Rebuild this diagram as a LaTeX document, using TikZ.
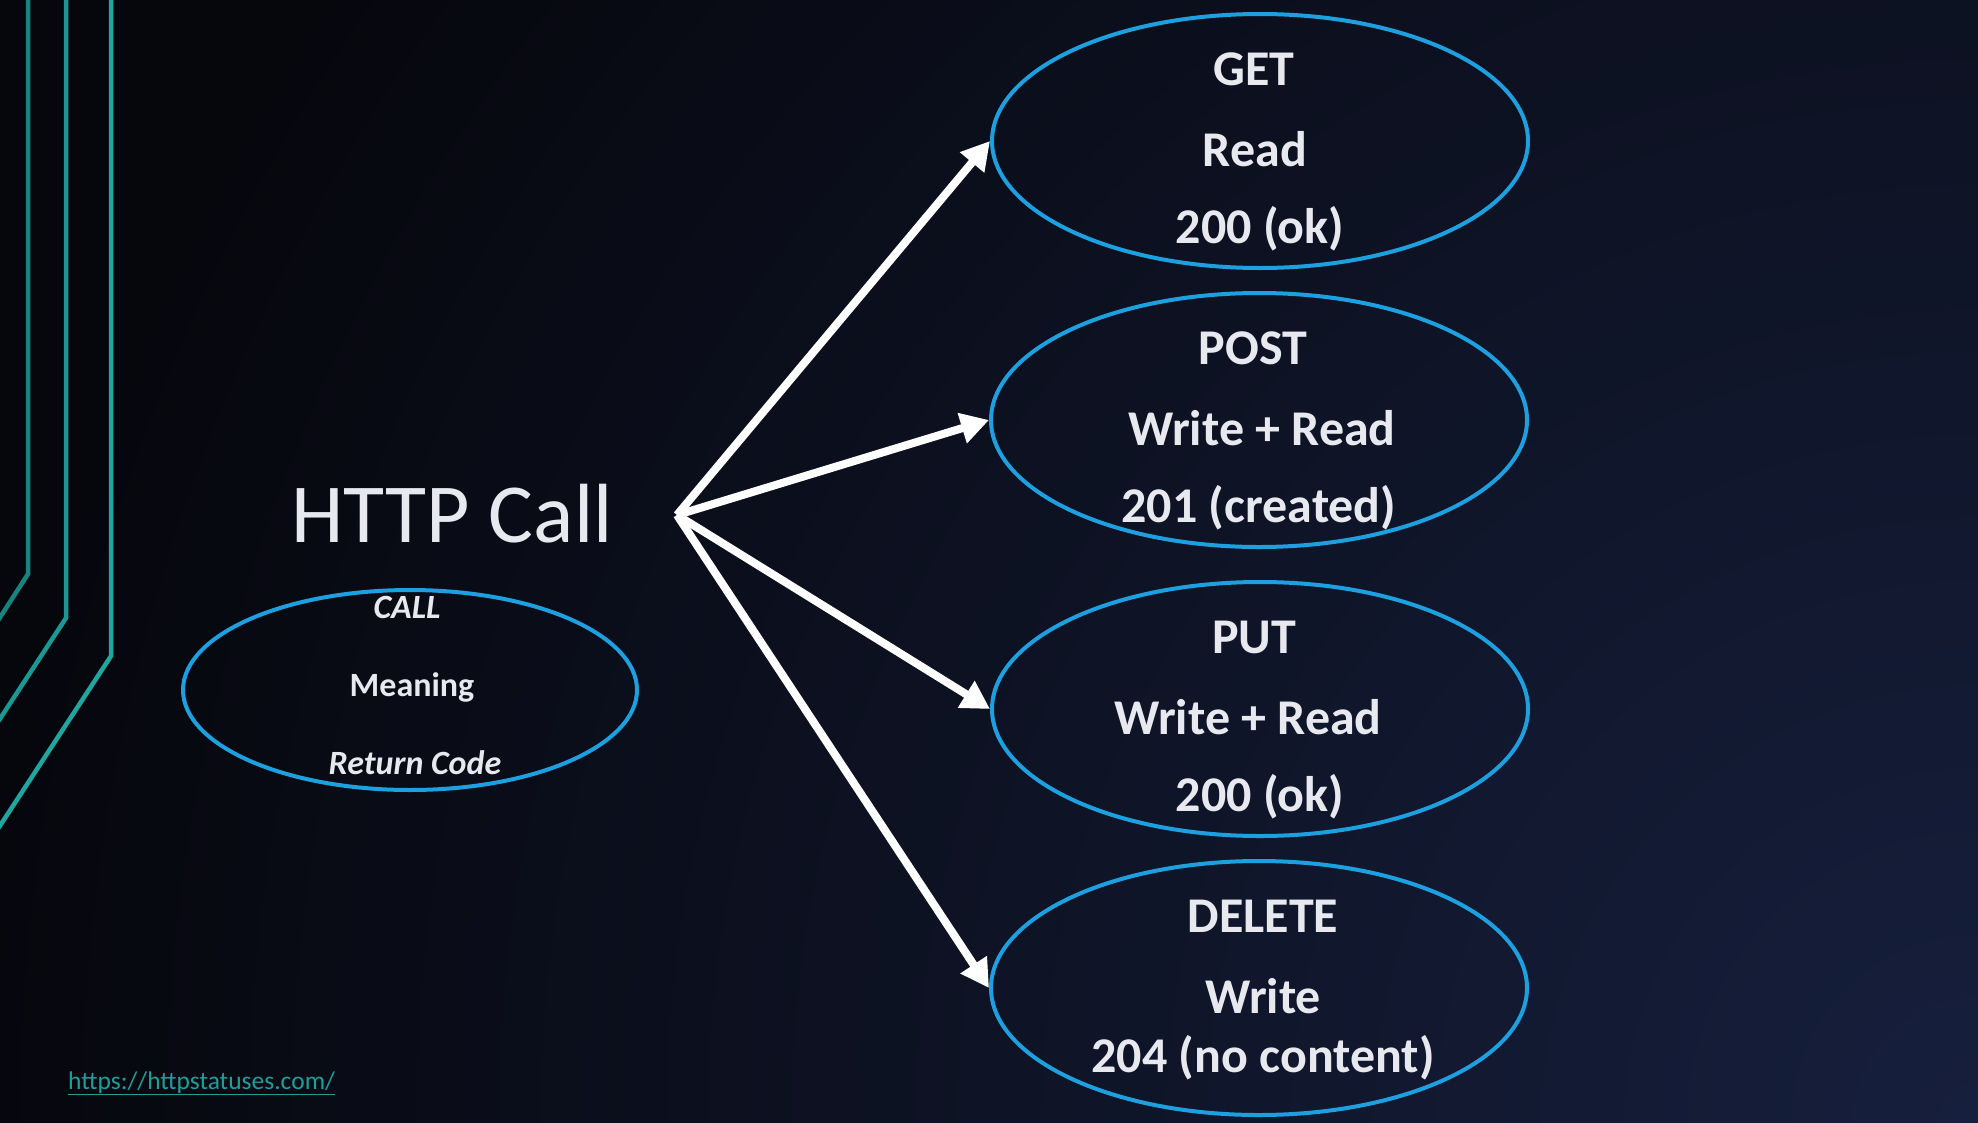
\documentclass[tikz,border=0pt]{standalone}
\usepackage{fontspec}
\setmainfont{Carlito}
\usetikzlibrary{arrows.meta,shapes.geometric}
\definecolor{bgdark}{HTML}{06070D}
\definecolor{bglight}{HTML}{161F3D}
\definecolor{ellblue}{HTML}{1CA0E0}
\definecolor{tealA}{HTML}{168580}
\definecolor{tealB}{HTML}{1A9893}
\definecolor{tealC}{HTML}{1FA79F}
\definecolor{txt}{HTML}{E8E8EF}
\definecolor{linkc}{HTML}{1E9E9A}
\begin{document}
\begin{tikzpicture}[x=1pt,y=-1pt,
  oval/.style={ellipse,draw=ellblue,line width=4pt,minimum width=536pt,minimum height=254pt,inner sep=0pt},
  smalloval/.style={ellipse,draw=ellblue,line width=4pt,minimum width=454pt,minimum height=200pt,inner sep=0pt},
  bigtxt/.style={text=txt,font=\fontsize{50}{60}\selectfont\bfseries,anchor=base,inner sep=0pt},
  smalltxt/.style={text=txt,font=\fontsize{34}{40}\selectfont\bfseries,anchor=base,inner sep=0pt},
  smallit/.style={smalltxt,font=\fontsize{34}{40}\selectfont\bfseries\itshape},
  arr/.style={draw=white,line width=8pt,-{Triangle[length=28pt,width=30pt]}},
  deco/.style={line width=4.5pt}
]
\useasboundingbox (0,0) rectangle (1978,1122);
\fill[bgdark] (0,0) rectangle (1978,1122);
\begin{scope}
\clip (0,0) rectangle (1978,1122);
\shade[inner color=bglight, outer color=bgdark] (1978,1122) circle (2000);
\draw[deco,tealA] (28,-5) -- (28,574) -- (-10,633);
\draw[deco,tealB] (66,-5) -- (66,618) -- (-10,734);
\draw[deco,tealC] (111,-5) -- (111,656) -- (-10,841);
\end{scope}

% ellipses
\node[oval] (get) at (1260,141) {};
\node[oval] (post) at (1259,420) {};
\node[oval] (put) at (1260,709) {};
\node[oval] (del) at (1259,988) {};
\node[smalloval] (legend) at (410,690) {};

% texts
\node[bigtxt] (t1a) at (1254,85) {GET};
\node[bigtxt] (t1b) at (1255,166) {Read};
\node[bigtxt] (t1c) at (1260,243) {200 (ok)};
\node[bigtxt] (t2a) at (1253,364) {POST};
\node[bigtxt] (t2b) at (1262,445) {Write + Read};
\node[bigtxt] (t2c) at (1259,522) {201 (created)};
\node[bigtxt] (t3a) at (1254,653) {PUT};
\node[bigtxt] (t3b) at (1248,734) {Write + Read};
\node[bigtxt] (t3c) at (1260,811) {200 (ok)};
\node[bigtxt] (t4a) at (1263,932) {DELETE};
\node[bigtxt] (t4b) at (1263,1013) {Write};
\node[bigtxt] (t4c) at (1263,1072) {204 (no content)};

\node[smallit] (la) at (407,618) {CALL};
\node[smalltxt] (lb) at (412,696) {Meaning};
\node[smallit] (lc) at (415,774) {Return Code};

\node[text=txt,font=\fontsize{84}{96}\selectfont,anchor=base,inner sep=0pt] (title) at (452,542) {HTTP Call};

\node[text=linkc,font=\fontsize{25.5}{30}\selectfont,anchor=base west,inner sep=0pt] (link) at (68,1089) {\underline{https://httpstatuses.com/}};

% arrows
\coordinate (o) at (677,515);
\draw[arr] (o) -- (get.west);
\draw[arr] (o) -- (post.west);
\draw[arr] (o) -- (put.west);
\draw[arr] (o) -- (del.west);
\end{tikzpicture}
\end{document}
